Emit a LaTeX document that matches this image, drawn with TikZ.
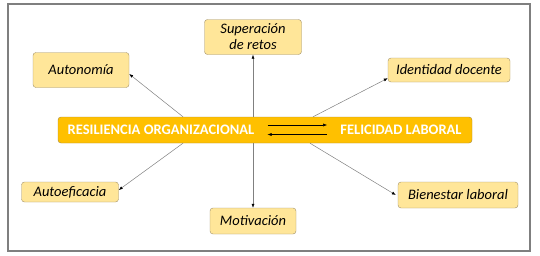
\documentclass[tikz,border=0pt]{standalone}
\usepackage{fontspec}
\setmainfont{Carlito}
\usetikzlibrary{positioning,arrows.meta}
\definecolor{FrameGray}{HTML}{7F7F7F}
\definecolor{BarGold}{HTML}{FFC000}
\definecolor{BarEdge}{HTML}{A88A3A}
\definecolor{BoxPale}{HTML}{FFE699}
\definecolor{BoxEdge}{HTML}{A0906A}
\definecolor{LinkGray}{HTML}{808080}

\begin{document}
\begin{tikzpicture}[x=1pt,y=-1pt,>={Latex[length=4pt,width=3pt,color=black]}]
  \tikzstyle{factor}=[draw=BoxEdge,fill=BoxPale,rounded corners=3pt,
    align=center,inner sep=2pt,font=\fontsize{14.5}{16}\selectfont\itshape]
  \tikzstyle{bar}=[draw=BarEdge,fill=BarGold,rounded corners=3pt,
    minimum width=414pt,minimum height=26pt,inner sep=0pt]
  \tikzstyle{core}=[text=white,inner sep=3pt,
    font=\fontsize{14.5}{16}\selectfont\bfseries]
  \tikzstyle{link}=[->,draw=LinkGray,line width=0.5pt]
  \useasboundingbox (0,0) rectangle (540,255);
  \draw[FrameGray,line width=1.2pt] (8,4) rectangle (530,251);
  % central bar
  \node[bar] (bar) at (265,130) {};
  \node[core] (ro) at (161,130) {RESILIENCIA ORGANIZACIONAL};
  \node[core] (fl) at (401,130) {FELICIDAD LABORAL};
  \draw[->,black,line width=0.5pt,shorten <=10pt,shorten >=10pt]
    ([yshift=5pt]ro.east) -- ([yshift=5pt]fl.west);
  \draw[->,black,line width=0.5pt,shorten <=10pt,shorten >=10pt]
    ([yshift=-4.5pt]fl.west) -- ([yshift=-4.5pt]ro.east);
  % dimensions
  \node[factor,minimum width=96pt,minimum height=35pt] (aut) at (81,70) {Autonomía};
  \node[factor,minimum width=97pt,minimum height=35pt] (sup) at (253,37) {Superación\\de retos};
  \node[factor,minimum width=122pt,minimum height=24pt] (ide) at (449,70) {Identidad docente};
  \node[factor,minimum width=97pt,minimum height=20pt] (aef) at (70,192) {Autoeficacia};
  \node[factor,minimum width=86pt,minimum height=26pt] (mot) at (253,221) {Motivación};
  \node[factor,minimum width=120pt,minimum height=26pt] (bie) at (458,195) {Bienestar laboral};
  \draw[link] ([xshift=-82pt]bar.north) -- ([yshift=-4pt]aut.east);
  \draw[link] (sup.south |- bar.north) -- (sup.south);
  \draw[link] ([xshift=48pt]bar.north) -- ([yshift=4pt]ide.south west);
  \draw[link] ([xshift=-82pt]bar.south) -- ([yshift=2pt]aef.east);
  \draw[link] (mot.north |- bar.south) -- (mot.north);
  \draw[link] ([xshift=45pt]bar.south) -- ([xshift=-2pt]bie.west);
\end{tikzpicture}
\end{document}
